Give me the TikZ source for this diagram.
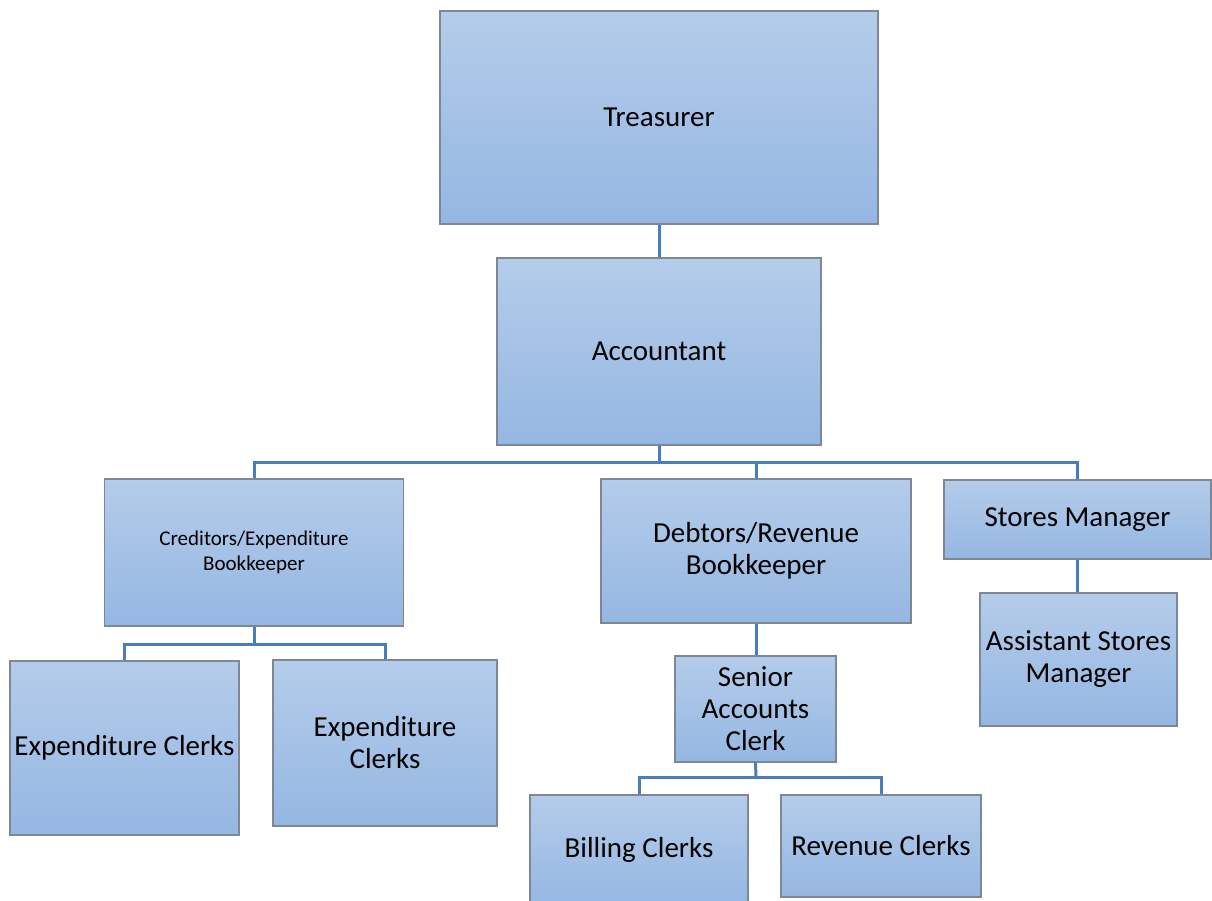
\documentclass[tikz,border=0pt]{standalone}
\usepackage{fontspec}
\setmainfont{Carlito}
\definecolor{boxtop}{RGB}{181,204,234}
\definecolor{boxbot}{RGB}{148,183,226}
\definecolor{boxline}{RGB}{125,135,150}
\definecolor{connblue}{RGB}{74,126,187}
\begin{document}
\begin{tikzpicture}[x=1pt,y=-1pt,
  box/.style={draw=boxline, line width=1.2pt, top color=boxtop, bottom color=boxbot,
    align=center, inner sep=0pt, text=black, font=\fontsize{29}{32}\selectfont},
  smallbox/.style={box, font=\fontsize{21}{25}\selectfont},
  conn/.style={draw=connblue, line width=3pt}]
\useasboundingbox (0,0) rectangle (1212,900);
\node[box, minimum width=438pt, minimum height=213pt] (tre) at (659,117.5) {Treasurer};
\node[box, minimum width=324pt, minimum height=187pt] (acc) at (659,351.5) {Accountant};
\node[smallbox, minimum width=299pt, minimum height=147pt] (cred) at (254,552.5) {Creditors/Expenditure\\Bookkeeper};
\node[box, minimum width=310pt, minimum height=144pt] (debt) at (756,551) {Debtors/Revenue\\Bookkeeper};
\node[box, minimum width=267pt, minimum height=79pt] (stor) at (1077.5,519.5) {Stores Manager};
\node[box, minimum width=197pt, minimum height=133pt] (asst) at (1078.5,659.5) {Assistant Stores\\Manager};
\node[box, minimum width=229pt, minimum height=174pt] (exp1) at (124.5,748) {Expenditure Clerks};
\node[box, minimum width=224pt, minimum height=166pt] (exp2) at (385,743) {Expenditure\\Clerks};
\node[box, minimum width=161pt, minimum height=106pt] (sen) at (755.5,709) {Senior\\Accounts\\Clerk};
\node[box, minimum width=218pt, minimum height=110pt] (bill) at (639,850) {Billing Clerks};
\node[box, minimum width=200pt, minimum height=102pt] (rev) at (881,846) {Revenue Clerks};
\coordinate (b1) at (659,462);
\coordinate (b2) at (254,644);
\coordinate (b3) at (756,777);
\draw[conn] (tre.south) -- (acc.north);
\draw[conn] (acc.south) -- (b1);
\draw[conn] (b1) -| (cred.north);
\draw[conn] (b1) -| (debt.north);
\draw[conn] (b1) -| (stor.north);
\draw[conn] (stor.south) -- (stor.south |- asst.north);
\draw[conn] (cred.south) -- (b2);
\draw[conn] (b2) -| (exp1.north);
\draw[conn] (b2) -| (exp2.north);
\draw[conn] (debt.south) -- (debt.south |- sen.north);
\draw[conn] (sen.south) -- (b3);
\draw[conn] (b3) -| (bill.north);
\draw[conn] (b3) -| (rev.north);
\end{tikzpicture}
\end{document}
